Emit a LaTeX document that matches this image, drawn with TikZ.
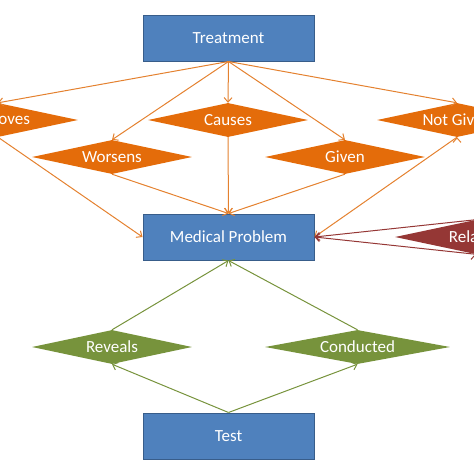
\documentclass[tikz,border=0pt]{standalone}
\usepackage{fontspec}
\setmainfont{Carlito}
\usetikzlibrary{arrows.meta,positioning,shapes.geometric}
\definecolor{entityfill}{HTML}{4F81BD}
\definecolor{entityline}{HTML}{385D8A}
\definecolor{treatorange}{HTML}{E46C0A}
\definecolor{treatline}{HTML}{E4812F}
\definecolor{testgreen}{HTML}{77933C}
\definecolor{relatedred}{HTML}{953735}
\tikzset{
  entity/.style={rectangle,draw=entityline,fill=entityfill,line width=1pt,
    minimum width=171pt,minimum height=46pt,text=white,
    font=\fontsize{17}{19}\selectfont},
  relation/.style={diamond,aspect=4.7,inner sep=0pt,
    minimum width=160pt,minimum height=34pt,text=white,
    font=\fontsize{17}{19}\selectfont},
  links/.style={->,>={Straight Barb[length=4.5pt,width=8pt]},line width=1pt}
}
\begin{document}
\begin{tikzpicture}[x=1pt,y=-1pt,node distance=199pt]
  \useasboundingbox (0,0) rectangle (474,474);
  \clip (0,0) rectangle (474,474);
  % entities
  \node[entity] (treatment) at (228.5,38) {Treatment};
  \node[entity,below of=treatment] (problem) {Medical Problem};
  \node[entity,below of=problem] (test) {Test};
  % treatment relations
  \node[relation,fill=treatorange] (improves) at (-2,120) {Improves};
  \node[relation,fill=treatorange] (causes) at (228,120) {Causes};
  \node[relation,fill=treatorange] (notgiven) at (457,120) {Not Given};
  \node[relation,fill=treatorange] (worsens) at (112,157) {Worsens};
  \node[relation,fill=treatorange] (given) at (345,157) {Given};
  % problem-problem relation
  \node[relation,fill=relatedred] (related) at (475,237) {Related};
  % test relations
  \node[relation,fill=testgreen] (reveals) at (112,347) {Reveals};
  \node[relation,fill=testgreen,minimum width=185pt] (conducted) at (357.5,347) {Conducted};
  \path[links,draw=treatline]
    (treatment.south) edge (improves.north)
    (treatment.south) edge (worsens.north)
    (treatment.south) edge (causes.north)
    (treatment.south) edge (given.north)
    (treatment.south) edge (notgiven.north)
    (improves.south) edge (problem.west)
    (worsens.south) edge (problem.north)
    (causes.south) edge (problem.north)
    (given.south) edge (problem.north)
    (notgiven.south) edge (problem.east)
    ;
  \path[links,draw=relatedred]
    (related.north) edge (problem.east)
    (related.south) edge (problem.east)
    ;
  \path[links,draw=testgreen]
    (test.north) edge (reveals.south)
    (test.north) edge (conducted.south)
    (reveals.north) edge (problem.south)
    (conducted.north) edge (problem.south)
    ;
\end{tikzpicture}
\end{document}
